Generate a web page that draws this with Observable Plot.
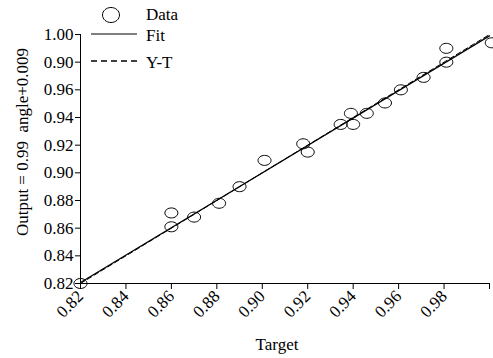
<!DOCTYPE html>
<html>
<head>
<meta charset="utf-8">
<script src="https://cdn.jsdelivr.net/npm/d3@7"></script>
<script src="https://cdn.jsdelivr.net/npm/@observablehq/plot@0.6"></script>
<style>
  html, body { margin: 0; padding: 0; background: #fff; }
  #chart { width: 493px; height: 358px; }
</style>
</head>
<body>
<div id="chart"></div>
<script>
// Data
const targets = [0.820, 0.860, 0.860, 0.870, 0.881, 0.890, 0.901, 0.918, 0.920, 0.9345, 0.939, 0.940, 0.946, 0.954, 0.961, 0.971, 0.981, 0.981, 1.001];
const outputs = [0.820, 0.871, 0.861, 0.868, 0.878, 0.890, 0.909, 0.921, 0.915, 0.935, 0.943, 0.935, 0.943, 0.9505, 0.960, 0.969, 0.990, 0.980, 0.994];

const xTicks = [0.82, 0.84, 0.86, 0.88, 0.90, 0.92, 0.94, 0.96, 0.98, 1.00];
const xTickLabels = ["0.82", "0.84", "0.86", "0.88", "0.90", "0.92", "0.94", "0.96", "0.98", ""];
const yTicks = [0.82, 0.84, 0.86, 0.88, 0.90, 0.92, 0.94, 0.96, 0.98, 1.00];
const yTickLabels = ["0.82", "0.84", "0.86", "0.88", "0.90", "0.92", "0.94", "0.96", "0.90", "1.00"];

const fitSlope = 0.99;
const fitIntercept = 0.009;
const lineEnds = [0.82, 1.00];

const legendLabels = ["Data", "Fit", "Y-T"];
const xLabel = "Target";
const yLabel = "Output = 0.99\u00a0\u00a0angle+0.009";

const data = targets.map((t, i) => ({t, o: outputs[i]}));
const fitData = lineEnds.map(t => ({t, o: fitSlope * t + fitIntercept}));
const ytData = lineEnds.map(t => ({t, o: t}));

const xLab = new Map(xTicks.map((t, i) => [t.toFixed(2), xTickLabels[i]]));
const yLab = new Map(yTicks.map((t, i) => [t.toFixed(2), yTickLabels[i]]));

function ellipseSymbol(rx, ry) {
  return {
    draw(ctx) {
      const k = 0.5523;
      ctx.moveTo(rx, 0);
      ctx.bezierCurveTo(rx, ry * k, rx * k, ry, 0, ry);
      ctx.bezierCurveTo(-rx * k, ry, -rx, ry * k, -rx, 0);
      ctx.bezierCurveTo(-rx, -ry * k, -rx * k, -ry, 0, -ry);
      ctx.bezierCurveTo(rx * k, -ry, rx, -ry * k, rx, 0);
      ctx.closePath();
    }
  };
}

const font = "'Liberation Serif', 'Times New Roman', serif";

const chart = Plot.plot({
  width: 493,
  height: 358,
  marginLeft: 80,
  marginTop: 34,
  marginBottom: 75,
  marginRight: 4,
  style: {fontFamily: font, fontSize: "17px", color: "#000", background: "#fff", overflow: "visible"},
  x: {domain: [0.82, 1.00]},
  y: {domain: [0.82, 1.00]},
  marks: [
    Plot.ruleX([0.82], {stroke: "#000", strokeWidth: 1}),
    Plot.ruleY([0.82], {stroke: "#000", strokeWidth: 1}),
    Plot.axisX({ticks: xTicks, tickFormat: d => xLab.get(d.toFixed(2)), tickRotate: -45, tickSize: 6, tickPadding: 4, label: null, fontSize: 17}),
    Plot.axisY({ticks: yTicks, tickFormat: d => yLab.get(d.toFixed(2)), tickSize: 5, tickPadding: 2, label: null, fontSize: 17}),
    Plot.line(ytData, {x: "t", y: "o", stroke: "#000", strokeWidth: 1, strokeDasharray: "5,3"}),
    Plot.line(fitData, {x: "t", y: "o", stroke: "#000", strokeWidth: 1.2}),
    Plot.dot(data, {x: "t", y: "o", symbol: ellipseSymbol(6.5, 5), stroke: "#000", strokeWidth: 1, fill: "none"})
  ]
});

document.getElementById("chart").appendChild(chart);

const svg = d3.select(chart);
// axis labels
svg.append("text")
  .attr("x", 277).attr("y", 350)
  .attr("text-anchor", "middle")
  .attr("font-family", font).attr("font-size", 17)
  .attr("fill", "#000")
  .text(xLabel);
svg.append("text")
  .attr("transform", "translate(28,142) rotate(-90)")
  .attr("text-anchor", "middle")
  .attr("font-family", font).attr("font-size", 17)
  .attr("fill", "#000")
  .text(yLabel);

// legend
const lg = svg.append("g").attr("font-family", font).attr("font-size", 17)
  .attr("fill", "#000").attr("text-anchor", "start");
const sym = d3.path();
ellipseSymbol(8.5, 7.5).draw(sym);
lg.append("path").attr("d", sym.toString()).attr("transform", "translate(111,15)")
  .attr("fill", "none").attr("stroke", "#000").attr("stroke-width", 1);
lg.append("line").attr("x1", 91).attr("x2", 137).attr("y1", 34).attr("y2", 34)
  .attr("stroke", "#000").attr("stroke-width", 1.2);
lg.append("line").attr("x1", 91).attr("x2", 137).attr("y1", 61).attr("y2", 61)
  .attr("stroke", "#000").attr("stroke-width", 1.6).attr("stroke-dasharray", "6,4");
const ly = [20, 41, 68];
legendLabels.forEach((l, i) => {
  lg.append("text").attr("x", 146).attr("y", ly[i]).attr("text-anchor", "start").text(l);
});
</script>
</body>
</html>
